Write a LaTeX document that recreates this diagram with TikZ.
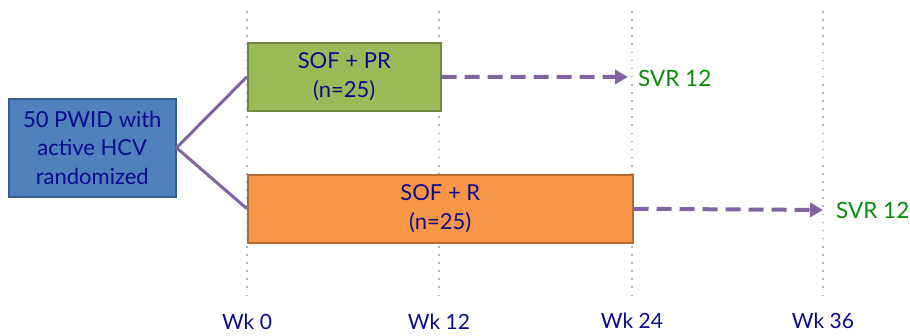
\documentclass[tikz,border=0pt]{standalone}
\usepackage{fontspec}
\setmainfont{Lato}
\usetikzlibrary{arrows.meta}
\definecolor{navy}{HTML}{0A0A8C}
\definecolor{bluefill}{HTML}{4F81BD}
\definecolor{blueedge}{HTML}{385D8A}
\definecolor{greenfill}{HTML}{9BBB59}
\definecolor{greenedge}{HTML}{71893F}
\definecolor{orangefill}{HTML}{F79646}
\definecolor{orangeedge}{HTML}{B66D31}
\definecolor{purp}{HTML}{8064A2}
\definecolor{svrgreen}{HTML}{0A8A0A}
\tikzset{
  box/.style={draw, line width=1.5pt, text=navy, font=\fontsize{22}{28.5}\selectfont, align=center, inner sep=0pt, anchor=north west},
  grid/.style={gray!60, line width=2pt, dash pattern=on 1.6pt off 6.5pt},
  branch/.style={purp, line width=3pt},
  dasharrow/.style={purp, line width=4pt, dash pattern=on 15pt off 8pt, -{Triangle[length=13pt,width=14pt]}},
  svr/.style={text=svrgreen, font=\fontsize{22.5}{24}\selectfont, anchor=west, inner sep=0pt},
  wk/.style={text=navy, font=\fontsize{21}{22}\selectfont, inner sep=0pt}
}
\begin{document}
\begin{tikzpicture}[x=1pt,y=-1pt]
\useasboundingbox (0,0) rectangle (910,335);
% grid lines
\foreach \n/\x in {g0/247,g12/439,g24/632,g36/823}{
  \coordinate (\n t) at (\x,11);
  \coordinate (\n b) at (\x,300);
  \draw[grid] (\n t) -- (\n b);
}
% boxes
\node[box, fill=bluefill, draw=blueedge, minimum width=167pt, minimum height=98pt] (rand) at (8,98) {50 PWID with\\active HCV\\randomized};
\node[box, fill=greenfill, draw=greenedge, minimum width=193pt, minimum height=68pt] (pr) at (247,42) {SOF + PR\\(n=25)};
\node[box, fill=orangefill, draw=orangeedge, minimum width=385pt, minimum height=68pt] (r) at (247,174) {SOF + R\\(n=25)};
% branches
\draw[branch] (pr.west) -- (rand.east) -- (r.west);
% outcomes
\node[svr] (svr1) at (638,78) {SVR 12};
\node[svr] (svr2) at (836,210) {SVR 12};
\coordinate (a1) at (628,77);
\coordinate (a2) at (823,210);
\draw[dasharrow] (pr.east) -- (a1);
\draw[dasharrow] (r.east) -- (a2);
% week labels
\node[wk] (w0) at (247,322) {Wk 0};
\node[wk] (w12) at (439,322) {Wk 12};
\node[wk] (w24) at (632,321) {Wk 24};
\node[wk] (w36) at (823,321) {Wk 36};
\end{tikzpicture}
\end{document}
